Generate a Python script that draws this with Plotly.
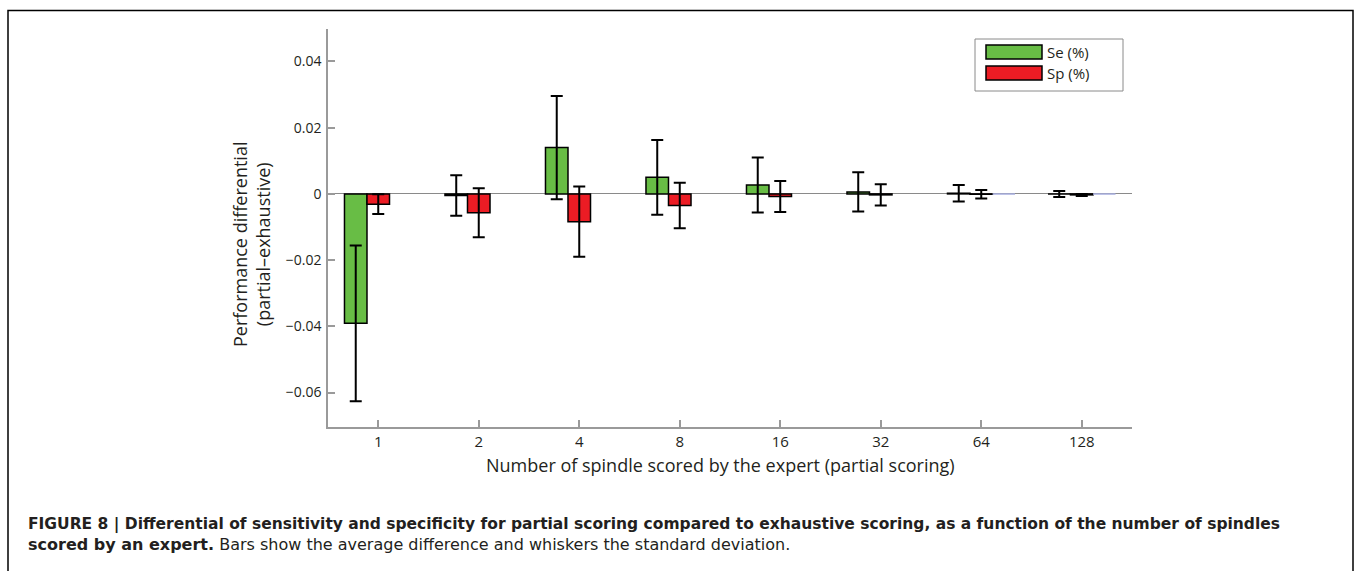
import plotly.graph_objects as go

# Number of spindles scored by the expert (partial scoring)
categories = ["1", "2", "4", "8", "16", "32", "64", "128"]

# Mean difference (partial - exhaustive) and standard deviation
se_mean = [-0.0391, -0.0005, 0.0140, 0.0050, 0.0027, 0.0006, 0.0002, 0.0000]
se_sd = [0.0235, 0.0061, 0.0156, 0.0113, 0.0083, 0.0059, 0.0025, 0.0009]
sp_mean = [-0.0031, -0.0057, -0.0084, -0.0035, -0.0008, -0.0003, -0.0001, -0.0003]
sp_sd = [0.0030, 0.0074, 0.0106, 0.0069, 0.0047, 0.0032, 0.0013, 0.0003]
# third (unlabelled) series, flat at zero
other_mean = [None, None, None, None, None, None, 0.0, 0.0]

W, H = 1355, 571
L, R, T, B = 328, 1132, 29, 427


def px(x):
    return (x - L) / (R - L)


def py(y):
    return (B - y) / (B - T)


GREEN = "#68bd45"
RED = "#ec1c24"
TXT = "#231f20"

err_style = dict(type="data", visible=True, color="black", thickness=2, width=6)

fig = go.Figure()
fig.add_trace(go.Bar(
    x=categories, y=se_mean, name="Se (%)",
    marker=dict(color=GREEN, line=dict(color="black", width=1.5)),
    error_y=dict(array=se_sd, **err_style),
))
fig.add_trace(go.Bar(
    x=categories, y=sp_mean, name="Sp (%)",
    marker=dict(color=RED, line=dict(color="black", width=1.5)),
    error_y=dict(array=sp_sd, **err_style),
))
fig.add_trace(go.Bar(
    x=categories, y=other_mean, name="other", showlegend=False,
    marker=dict(color="#aab0e0", line=dict(color="#a8aee0", width=1.5)),
))

fig.update_layout(
    width=W, height=H,
    margin=dict(l=L, r=W - R, t=T, b=H - B),
    paper_bgcolor="white", plot_bgcolor="white",
    barmode="group", bargap=0.328, bargroupgap=0,
    showlegend=False,
    xaxis=dict(
        type="category", range=[-0.5, 7.5],
        showline=True, linecolor="#9a9a9a", linewidth=1.5,
        ticks="inside", ticklen=7, tickwidth=1.5, tickcolor="#9a9a9a",
        tickfont=dict(family="Open Sans", size=15, color=TXT),
        showgrid=False, zeroline=False,
    ),
    yaxis=dict(
        range=[-0.0704, 0.0498],
        tickvals=[-0.06, -0.04, -0.02, 0, 0.02, 0.04],
        ticktext=["−0.06", "−0.04", "−0.02", "0", "0.02", "0.04"],
        showline=True, linecolor="#9a9a9a", linewidth=1.5,
        ticks="inside", ticklen=7, tickwidth=1.5, tickcolor="#9a9a9a",
        tickfont=dict(family="Open Sans", size=14, color=TXT),
        showgrid=False,
        zeroline=True, zerolinecolor="#8a8a8a", zerolinewidth=1.2,
        ticklabelstandoff=2,
    ),
)

annotations = [
    # x-axis title
    dict(x=px(720), y=py(465), xref="paper", yref="paper",
         text="Number of spindle scored by the expert (partial scoring)",
         showarrow=False, xanchor="center", yanchor="middle",
         font=dict(family="Open Sans", size=18, color=TXT)),
    # y-axis title
    dict(x=px(251), y=py(245), xref="paper", yref="paper",
         text="Performance differential<br>(partial–exhaustive)",
         textangle=-90, showarrow=False, xanchor="center", yanchor="middle",
         font=dict(family="Open Sans", size=18, color=TXT)),
    # legend labels
    dict(x=px(1045), y=py(52), xref="paper", yref="paper", text="Se (%)",
         showarrow=False, xanchor="left", yanchor="middle",
         font=dict(family="Open Sans", size=15, color=TXT)),
    dict(x=px(1045), y=py(73), xref="paper", yref="paper", text="Sp (%)",
         showarrow=False, xanchor="left", yanchor="middle",
         font=dict(family="Open Sans", size=15, color=TXT)),
    # caption
    dict(x=px(26), y=py(524), xref="paper", yref="paper",
         text="<b>FIGURE 8 | Differential of sensitivity and specificity for partial scoring "
              "compared to exhaustive scoring, as a function of the number of spindles</b>",
         showarrow=False, xanchor="left", yanchor="middle", align="left",
         font=dict(family="DejaVu Sans", size=15.5, color=TXT)),
    dict(x=px(26), y=py(544), xref="paper", yref="paper",
         text="<b>scored by an expert.</b> Bars show the average difference and whiskers "
              "the standard deviation.",
         showarrow=False, xanchor="left", yanchor="middle", align="left",
         font=dict(family="DejaVu Sans", size=16, color=TXT)),
]
fig.update_layout(annotations=annotations)

shapes = [
    # outer frame
    dict(type="rect", xref="paper", yref="paper",
         x0=px(8), x1=px(1353), y0=py(600), y1=py(10.5),
         line=dict(color="black", width=1.5), fillcolor="rgba(0,0,0,0)", layer="below"),
    # legend box
    dict(type="rect", xref="paper", yref="paper",
         x0=px(975), x1=px(1123), y0=py(91), y1=py(39),
         line=dict(color="#8a8a8a", width=1), fillcolor="white"),
    dict(type="rect", xref="paper", yref="paper",
         x0=px(986), x1=px(1042), y0=py(59), y1=py(45),
         line=dict(color="black", width=1.5), fillcolor=GREEN),
    dict(type="rect", xref="paper", yref="paper",
         x0=px(986), x1=px(1042), y0=py(80), y1=py(66),
         line=dict(color="black", width=1.5), fillcolor=RED),
]
fig.update_layout(shapes=shapes)

fig.write_html("out.html")
